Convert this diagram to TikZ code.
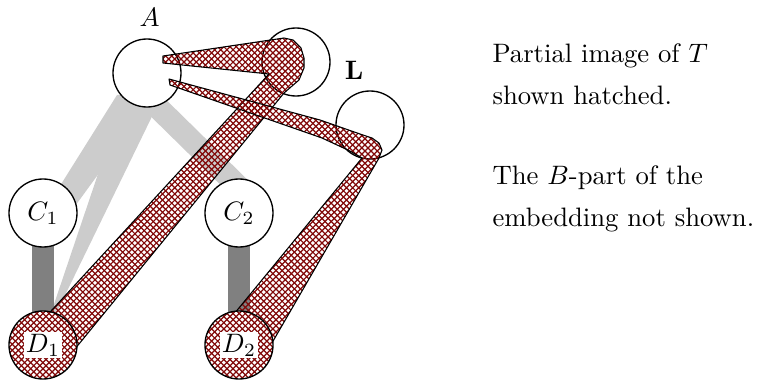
\documentclass[tikz,border=0pt]{standalone}
\usetikzlibrary{patterns}
\definecolor{hatchred}{RGB}{130,10,10}
\pgfdeclarelayer{background}
\pgfsetlayers{background,main}
\pgfdeclarepatternformonly{xhatch}{\pgfqpoint{-0.5pt}{-0.5pt}}{\pgfqpoint{2.8pt}{2.8pt}}{\pgfqpoint{2.3pt}{2.3pt}}{%
  \pgfsetlinewidth{0.45pt}%
  \pgfpathmoveto{\pgfqpoint{-0.1pt}{-0.1pt}}\pgfpathlineto{\pgfqpoint{2.4pt}{2.4pt}}%
  \pgfpathmoveto{\pgfqpoint{-0.1pt}{2.4pt}}\pgfpathlineto{\pgfqpoint{2.4pt}{-0.1pt}}%
  \pgfusepath{stroke}}
\tikzset{
  vtx/.style={circle, draw, line width=0.5pt, fill=white, minimum size=25.5pt, inner sep=0pt},
  hvtx/.style={circle, draw, line width=0.5pt, minimum size=25.5pt, inner sep=0pt,
    preaction={fill=white}, pattern=xhatch, pattern color=hatchred},
  hatched/.style={pattern=xhatch, pattern color=hatchred, draw=black, line width=0.4pt, line join=round},
  lgband/.style={fill=gray!40},
  dgbar/.style={draw=gray, line width=8.6pt},
  txt/.style={anchor=base west, inner sep=0pt},
  dlab/.style={fill=white, inner sep=0.8pt}
}
\begin{document}
\begin{tikzpicture}[x=0.375pt, y=-0.375pt]
\useasboundingbox (0,0) rectangle (761,381);

% plain vertices
\node[vtx] (A) at (147,73) {};
\node[vtx] (B) at (296,62) {};
\node[vtx] (Lc) at (370,125) {};
\node[vtx] (C1) at (43,213) {$C_1$};
\node[vtx] (C2) at (239,213) {$C_2$};

% hatched partial image
\draw[hatched] (163,56) -- (284,38) -- (293,40) -- (301,48) -- (304,58) -- (304,68)
  -- (299,80) -- (284,93) -- (70,355) -- (40,323) -- (269,74) -- (163,63) -- cycle;
\draw[hatched] (169,79) -- (320,120) -- (360,134) -- (372,138) -- (379,143) -- (382,150)
  -- (379,158) -- (265,355) -- (225,325) -- (362,158) -- (350,151) -- (322,138)
  -- (170,85) -- cycle;

% hatched vertices
\node[hvtx] (D1) at (43,345) {};
\node[hvtx] (D2) at (239,345) {};
\node[dlab] (D1lab) at (D1.center) {$D_1$};
\node[dlab] (D2lab) at (D2.center) {$D_2$};

% gray bands underneath
\begin{pgfonlayer}{background}
  \fill[lgband] (117,95) -- (156,95) -- (70,213) -- (43,213) -- cycle;
  \fill[lgband] (123,100) -- (160,100) -- (52,322) -- (48,322) -- cycle;
  \fill[lgband] (148,82) -- (132,98) -- (244,208) -- (260,192) -- cycle;
  \draw[dgbar] (C1.center) -- (D1.center);
  \draw[dgbar] (C2.center) -- (D2.center);
\end{pgfonlayer}

% labels
\node[anchor=base, inner sep=0pt] (labA) at (149.5,27) {$A$};
\node[anchor=base, inner sep=0pt] (labL) at (354,80) {$\mathbf{L}$};

% explanatory text
\node[txt] (t1) at (492,63) {Partial image of $T$};
\node[txt] (t2) at (492,105) {shown hatched.};
\node[txt] (t3) at (492,185) {The $B$-part of the};
\node[txt] (t4) at (492,227) {embedding not shown.};
\end{tikzpicture}
\end{document}
